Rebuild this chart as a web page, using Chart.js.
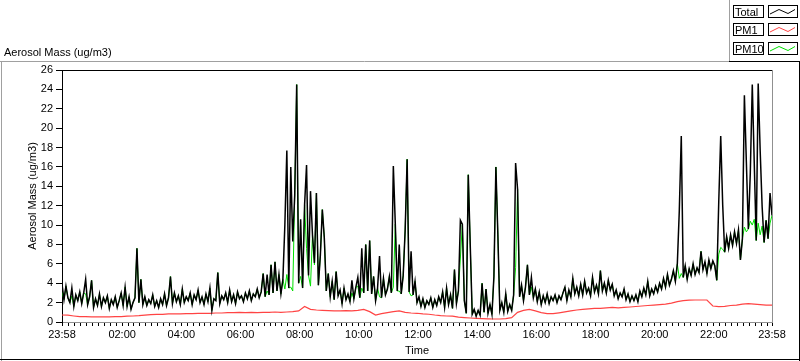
<!DOCTYPE html>
<html>
<head>
<meta charset="utf-8">
<script src="https://cdn.jsdelivr.net/npm/chart.js@4.4.0/dist/chart.umd.min.js"></script>
<style>
  html, body { margin: 0; padding: 0; background: #fff; }
  canvas { display: block; }
</style>
</head>
<body>
<canvas id="chart" width="800" height="361"></canvas>
<script>
// samples every 4 minutes from 23:58 to 23:58 (ug/m3)
const totalMass = [
  3.9, 2.3, 3.7, 2.5, 2.0, 3.5, 1.6, 2.8, 2.2, 3.1,
  1.9, 3.0, 4.4, 1.8, 2.6, 4.3, 1.5, 2.4, 1.7, 2.9,
  1.6, 2.5, 2.0, 2.7, 1.4, 2.3, 1.8, 2.6, 1.5, 2.2,
  3.0, 1.7, 3.6, 1.6, 2.6, 1.3, 2.0, 2.5, 7.6, 2.0,
  4.4, 1.8, 2.6, 1.7, 2.3, 1.9, 2.8, 1.6, 2.2, 1.5,
  2.4, 1.8, 2.9, 1.7, 2.5, 4.7, 1.9, 3.0, 2.1, 2.7,
  1.8, 3.4, 2.0, 2.6, 2.2, 3.0, 1.8, 2.8, 2.3, 3.3,
  2.0, 2.6, 1.8, 2.9, 2.1, 3.5, 1.2, 2.4, 2.2, 5.1,
  1.9, 2.7, 2.3, 3.0, 2.0, 3.3, 2.1, 2.8, 1.9, 3.1,
  2.4, 2.7, 2.1, 3.0, 2.4, 3.2, 2.2, 2.9, 2.6, 3.4,
  2.5, 3.1, 5.0, 2.6, 4.9, 2.8, 5.9, 3.0, 6.2, 3.2,
  4.9, 2.9, 4.4, 10.0, 17.7, 3.5, 16.0, 8.3, 13.1, 24.5,
  4.0, 10.6, 3.5, 12.1, 16.2, 4.8, 13.5, 9.0, 6.1, 13.3,
  3.8, 6.9, 11.6, 8.7, 3.2, 5.0, 2.6, 4.2, 2.3, 5.2,
  2.7, 3.3, 1.9, 3.5, 2.3, 2.9, 2.1, 4.3, 2.4, 3.6,
  4.6, 2.5, 7.6, 3.0, 8.0, 3.2, 8.4, 2.9, 4.7, 2.2,
  3.5, 6.8, 2.5, 4.5, 2.8, 3.4, 4.7, 3.0, 16.1, 10.1,
  3.2, 8.0, 2.9, 4.8, 9.5, 16.8, 3.1, 7.3, 2.8, 4.2,
  2.0, 2.6, 1.6, 2.4, 1.5, 2.2, 1.8, 2.5, 1.5, 2.3,
  1.7, 2.6, 2.0, 3.1, 1.5, 3.5, 1.8, 2.8, 1.4, 5.4,
  1.9, 3.2, 10.5, 10.1, 2.2, 0.9, 15.2, 7.9, 0.8, 1.3,
  0.6, 1.2, 0.7, 4.0, 1.0, 3.4, 0.9, 1.8, 0.8, 4.7,
  16.0, 9.0, 1.2, 2.0, 1.0, 2.9, 1.1, 1.8, 1.2, 2.8,
  16.4, 13.7, 2.6, 3.8, 2.2, 3.6, 5.9, 2.8, 4.6, 2.5,
  3.4, 2.1, 3.1, 1.8, 2.7, 2.0, 2.9, 1.9, 2.6, 2.2,
  2.8, 2.0, 2.7, 2.3, 3.0, 3.6, 2.2, 3.3, 2.6, 4.5,
  2.9, 3.6, 2.7, 3.9, 2.8, 4.2, 3.0, 3.5, 2.7, 4.6,
  3.1, 3.8, 2.9, 5.3, 3.2, 4.0, 3.0, 4.3, 3.3, 3.9,
  2.7, 3.3, 2.4, 3.0, 2.6, 3.4, 2.3, 2.9, 2.1, 2.7,
  2.2, 2.8, 2.1, 3.2, 2.6, 3.5, 2.8, 4.2, 2.7, 3.4,
  2.9, 3.7, 3.1, 4.0, 3.4, 4.5, 3.6, 4.9, 3.8, 4.4,
  5.3, 4.2, 6.0, 11.5, 19.2, 4.6, 5.8, 4.4, 5.5, 4.8,
  6.0, 4.9, 5.6, 5.1, 7.3, 5.4, 6.2, 5.0, 6.4, 5.5,
  6.3, 5.8, 4.3, 12.4, 19.2, 12.1, 7.2, 8.8, 7.6, 9.0,
  7.9, 9.3, 8.1, 9.5, 6.4, 8.6, 23.4, 16.5, 9.6, 15.4,
  24.5, 16.4, 8.4, 24.6, 17.7, 11.9, 8.2, 10.5, 8.6, 13.3, 11.0
];

const pm10Mass = [
  3.1, 2.3, 3.7, 2.5, 2.0, 2.7, 1.6, 2.8, 2.2, 3.1,
  1.9, 3.0, 2.9, 1.8, 2.6, 4.3, 1.5, 2.4, 1.7, 2.9,
  1.6, 2.5, 2.0, 2.7, 1.4, 2.3, 1.8, 2.6, 1.5, 2.2,
  3.0, 1.7, 3.6, 1.6, 2.6, 1.3, 2.0, 2.5, 7.6, 2.0,
  4.4, 1.8, 2.6, 1.7, 2.3, 1.9, 2.8, 1.6, 2.2, 1.5,
  2.4, 1.8, 2.9, 1.7, 2.5, 4.7, 1.9, 3.0, 2.1, 2.7,
  1.8, 3.4, 2.0, 2.6, 2.2, 3.0, 1.8, 2.8, 2.3, 3.3,
  2.0, 2.6, 1.8, 2.9, 2.1, 3.5, 1.2, 2.4, 2.2, 5.1,
  1.9, 2.7, 2.3, 3.0, 2.0, 3.3, 2.1, 2.8, 1.9, 3.1,
  2.4, 2.7, 2.1, 3.0, 2.4, 3.2, 2.2, 2.9, 2.6, 3.4,
  2.5, 3.1, 5.0, 2.6, 3.2, 2.8, 5.9, 3.0, 6.2, 3.2,
  4.9, 2.9, 4.4, 3.4, 4.9, 3.5, 3.6, 3.2, 13.1, 24.5,
  4.0, 4.7, 3.5, 12.1, 7.6, 4.8, 3.7, 9.0, 5.9, 13.3,
  3.8, 6.9, 11.6, 8.7, 3.2, 5.0, 2.6, 4.2, 2.3, 5.2,
  2.7, 3.3, 1.9, 3.5, 2.3, 2.9, 2.1, 3.0, 2.4, 3.6,
  3.7, 2.5, 3.5, 3.0, 8.0, 3.2, 8.4, 2.9, 4.7, 2.2,
  3.5, 2.6, 2.5, 4.5, 2.8, 3.4, 4.7, 3.0, 3.6, 10.1,
  3.2, 3.2, 2.9, 4.8, 9.5, 16.8, 3.1, 2.7, 2.8, 4.2,
  2.0, 2.6, 1.6, 2.4, 1.5, 2.2, 1.8, 2.5, 1.5, 2.3,
  1.7, 2.6, 2.0, 3.1, 1.5, 3.5, 1.8, 2.8, 1.4, 5.4,
  1.9, 3.2, 6.6, 10.1, 2.2, 0.9, 15.2, 7.9, 0.8, 1.3,
  0.6, 1.2, 0.7, 4.0, 1.0, 3.4, 0.9, 1.8, 0.8, 4.7,
  16.0, 9.0, 1.2, 2.0, 1.0, 2.9, 1.1, 1.8, 1.2, 2.8,
  5.6, 13.7, 2.6, 3.8, 2.2, 3.6, 5.9, 2.8, 3.6, 2.5,
  3.4, 2.1, 3.1, 1.8, 2.7, 2.0, 2.9, 1.9, 2.6, 2.2,
  2.8, 2.0, 2.7, 2.3, 3.0, 3.6, 2.2, 3.3, 2.6, 4.5,
  2.9, 3.6, 2.7, 3.9, 2.8, 4.2, 3.0, 3.5, 2.7, 4.6,
  3.1, 3.8, 2.9, 5.3, 3.2, 4.0, 3.0, 4.3, 3.3, 3.9,
  2.7, 3.3, 2.4, 3.0, 2.6, 3.4, 2.3, 2.9, 2.1, 2.7,
  2.2, 2.8, 2.1, 3.2, 2.6, 3.5, 2.8, 4.2, 2.7, 3.4,
  2.9, 3.7, 3.1, 4.0, 3.4, 4.5, 3.6, 4.9, 3.8, 4.4,
  5.3, 4.2, 6.0, 4.5, 5.0, 4.6, 5.8, 4.4, 5.5, 4.8,
  6.0, 4.9, 5.6, 5.1, 7.3, 5.4, 6.2, 5.0, 6.4, 5.5,
  6.3, 5.8, 4.3, 7.0, 7.7, 7.5, 7.2, 8.8, 7.6, 9.0,
  7.9, 9.3, 8.1, 9.5, 6.4, 8.6, 9.8, 9.3, 9.6, 10.4,
  10.0, 10.6, 8.4, 10.2, 9.0, 9.9, 8.2, 10.5, 8.6, 10.2, 11.0
];

// PM1 every 12 minutes
const pm1Mass = [
  0.72, 0.70, 0.62, 0.55, 0.55, 0.52, 0.52, 0.52, 0.52, 0.55,
  0.55, 0.60, 0.62, 0.65, 0.70, 0.76, 0.79, 0.79, 0.83, 0.83,
  0.83, 0.86, 0.86, 0.90, 0.90, 0.90, 0.93, 0.93, 0.97, 0.97,
  1.00, 0.97, 1.00, 0.97, 1.00, 1.00, 1.03, 1.00, 1.03, 1.07,
  1.14, 1.60, 1.30, 1.24, 1.20, 1.17, 1.14, 1.14, 1.17, 1.14,
  1.20, 1.30, 1.07, 0.72, 0.86, 0.97, 1.07, 1.14, 1.00, 0.93,
  0.90, 0.83, 0.80, 0.72, 0.66, 0.62, 0.60, 0.50, 0.45, 0.41,
  0.38, 0.35, 0.33, 0.31, 0.31, 0.35, 0.45, 1.00, 1.20, 1.30,
  1.15, 0.97, 0.86, 0.86, 0.95, 1.05, 1.15, 1.24, 1.30, 1.35,
  1.40, 1.40, 1.45, 1.50, 1.45, 1.50, 1.55, 1.60, 1.65, 1.70,
  1.75, 1.80, 1.85, 1.95, 2.10, 2.20, 2.25, 2.27, 2.27, 2.27,
  1.65, 1.58, 1.62, 1.70, 1.75, 1.85, 1.90, 1.85, 1.80, 1.75, 1.75
];

const TOTAL_STEP = 4;
const PM1_STEP = 12;

const tickMinutes = [0, 122, 242, 362, 482, 602, 722, 842, 962, 1082, 1202, 1322, 1440];
const tickLabels = ["23:58", "02:00", "04:00", "06:00", "08:00", "10:00", "12:00",
  "14:00", "16:00", "18:00", "20:00", "22:00", "23:58"];

const seriesNames = ["Total", "PM1", "PM10"];
const seriesColors = ["#000000", "#ff4444", "#00e000"];

const FONT = "Liberation Sans";

function toPoints(values, step) {
  return values.map((v, i) => ({ x: i * step, y: v }));
}

// small ticks every 12 minutes starting at 00:00
function minorTicks() {
  const t = [0];
  for (let m = 2; m < 1440; m += 12) t.push(m);
  t.push(1440);
  return t;
}

const extras = {
  id: "extras",
  beforeDraw(chart) {
    const c = chart.ctx;
    c.save();
    c.fillStyle = "#fff";
    c.fillRect(0, 0, chart.width, chart.height);
    c.restore();
  },
  afterDraw(chart) {
    const c = chart.ctx;
    const a = chart.chartArea;
    c.save();
    c.lineWidth = 1;

    // outer panel
    c.strokeStyle = "#a0a0a0";
    c.beginPath();
    c.moveTo(0, 61.5); c.lineTo(729, 61.5);
    c.moveTo(729.5, 0); c.lineTo(729.5, 61);
    c.moveTo(1.5, 61); c.lineTo(1.5, 361);
    c.stroke();
    c.strokeStyle = "#000";
    c.beginPath();
    c.moveTo(729, 61.5); c.lineTo(800, 61.5);
    c.moveTo(799.5, 61); c.lineTo(799.5, 361);
    c.moveTo(0, 359.5); c.lineTo(800, 359.5);
    c.stroke();

    // plot frame top / right
    c.strokeStyle = "#000";
    c.beginPath();
    c.moveTo(a.left, a.top + 0.5); c.lineTo(a.right, a.top + 0.5);
    c.stroke();
    c.strokeStyle = "#909090";
    c.beginPath();
    c.moveTo(a.right + 0.5, a.top); c.lineTo(a.right + 0.5, a.bottom + 1);
    c.stroke();

    // texts
    c.fillStyle = "#000";
    c.font = "11px '" + FONT + "'";
    c.textBaseline = "alphabetic";
    c.textAlign = "left";
    c.fillText("Aerosol Mass (ug/m3)", 4, 56);

    c.textAlign = "center";
    c.textBaseline = "middle";
    c.fillText("Time", (a.left + a.right) / 2, 351);

    c.save();
    c.translate(33, (a.top + a.bottom) / 2);
    c.rotate(-Math.PI / 2);
    c.fillText("Aerosol Mass (ug/m3)", 0, 0);
    c.restore();

    // legend
    const rowsTop = [5, 23, 42];
    seriesNames.forEach((name, k) => {
      const y0 = rowsTop[k];
      c.strokeStyle = "#000";
      c.strokeRect(733.5, y0 + 0.5, 30, 12);
      c.strokeRect(768.5, y0 + 0.5, 29, 12);
      c.fillStyle = "#000";
      c.textAlign = "left";
      c.textBaseline = "alphabetic";
      c.fillText(name, 735, y0 + 10.5);
      c.strokeStyle = seriesColors[k];
      c.beginPath();
      c.moveTo(770, y0 + 9);
      c.lineTo(779, y0 + 4.5);
      c.lineTo(788, y0 + 8.5);
      c.lineTo(795, y0 + 4.5);
      c.stroke();
    });
    c.restore();
  }
};

new Chart(document.getElementById("chart"), {
  type: "line",
  data: {
    datasets: [
      {
        label: seriesNames[0],
        data: toPoints(totalMass, TOTAL_STEP),
        borderColor: seriesColors[0],
        borderWidth: 1.5,
        pointRadius: 0,
        tension: 0,
        order: 1
      },
      {
        label: seriesNames[2],
        data: toPoints(pm10Mass, TOTAL_STEP),
        borderColor: seriesColors[2],
        borderWidth: 1,
        pointRadius: 0,
        tension: 0,
        order: 2
      },
      {
        label: seriesNames[1],
        data: toPoints(pm1Mass, PM1_STEP),
        borderColor: seriesColors[1],
        borderWidth: 1.2,
        pointRadius: 0,
        tension: 0,
        order: 3
      }
    ]
  },
  options: {
    responsive: false,
    animation: false,
    events: [],
    layout: { padding: { left: 0, right: 28, top: 70, bottom: 0 } },
    plugins: {
      legend: { display: false },
      tooltip: { enabled: false }
    },
    scales: {
      x: {
        type: "linear",
        min: 0,
        max: 1440,
        afterBuildTicks: (scale) => {
          scale.ticks = minorTicks().map((v) => ({ value: v }));
        },
        afterFit: (scale) => { scale.height = 39; },
        ticks: {
          autoSkip: false,
          maxRotation: 0,
          padding: 2,
          color: "#000",
          font: { family: FONT, size: 11 },
          callback: (value) => {
            const k = tickMinutes.indexOf(value);
            return k >= 0 ? tickLabels[k] : "";
          }
        },
        grid: {
          drawOnChartArea: false,
          drawTicks: true,
          tickLength: 4,
          color: "#000"
        },
        border: { display: true, color: "#909090" }
      },
      y: {
        min: 0,
        max: 26,
        afterFit: (scale) => { scale.width = 62; },
        ticks: {
          stepSize: 2,
          padding: 3,
          color: "#000",
          font: { family: FONT, size: 11 }
        },
        grid: {
          drawOnChartArea: false,
          drawTicks: true,
          tickLength: 6,
          color: "#000"
        },
        border: { display: true, color: "#000" }
      }
    }
  },
  plugins: [extras]
});
</script>
</body>
</html>
